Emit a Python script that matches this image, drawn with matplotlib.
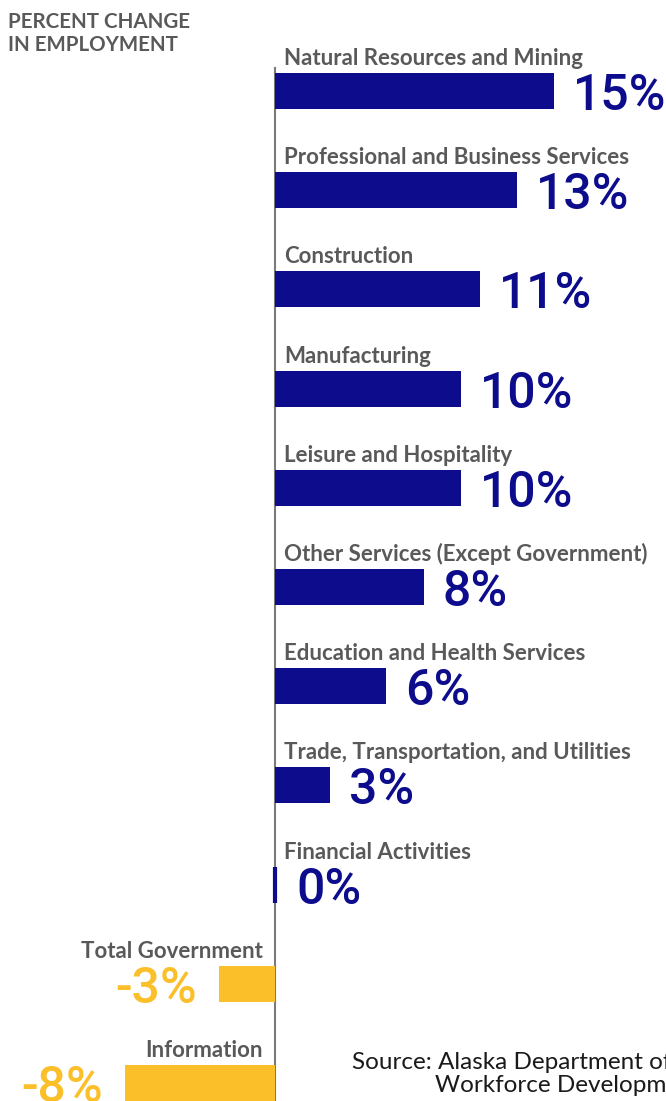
import matplotlib
matplotlib.use("Agg")
import matplotlib.pyplot as plt

# percent change in employment by industry
sectores = [
    "Natural Resources and Mining",
    "Professional and Business Services",
    "Construction",
    "Manufacturing",
    "Leisure and Hospitality",
    "Other Services (Except Government)",
    "Education and Health Services",
    "Trade, Transportation, and Utilities",
    "Financial Activities",
    "Total Government",
    "Information",
]
cambio = [15, 13, 11, 10, 10, 8, 6, 3, 0, -3, -8]

azul = "#0c0c8c"
amarillo = "#fbbf2a"
gris = "#595959"

plt.rcParams["font.family"] = ["Lato", "DejaVu Sans"]
fuente_num = ["Roboto", "DejaVu Sans"]

fig = plt.figure(figsize=(6.66, 11.01), dpi=100)
ax = fig.add_axes([0, 0, 1, 1])

alto = 0.363
pos = list(range(len(cambio)))
colores = [azul if v >= 0 else amarillo for v in cambio]
grosor = [3 if v == 0 else 0 for v in cambio]

ax.barh(pos, cambio, height=alto, color=colores, edgecolor=colores,
        linewidth=grosor, zorder=3)
ax.plot([0, 0], [-0.23, 10.5], color="#7a7a7a", lw=1.5, zorder=2)

for y, nombre, v in zip(pos, sectores, cambio):
    tope = y - alto / 2
    if v >= 0:
        ax.annotate(nombre, xy=(0, tope), xytext=(10, 8), textcoords="offset pixels",
                    ha="left", va="baseline", fontsize=16, fontweight="bold", color=gris)
        dx = 22 if v == 0 else 19
        ax.annotate(f"{v}%", xy=(v, y), xytext=(dx, -19), textcoords="offset pixels",
                    ha="left", va="baseline", fontsize=36, fontweight="medium",
                    family=fuente_num, color=azul)
    else:
        ax.annotate(nombre, xy=(0, tope), xytext=(-12, 8), textcoords="offset pixels",
                    ha="right", va="baseline", fontsize=16, fontweight="bold", color=gris)
        ax.annotate(f"{v}%", xy=(v, y), xytext=(-22, -19), textcoords="offset pixels",
                    ha="right", va="baseline", fontsize=36, fontweight="medium",
                    family=fuente_num, color=amarillo)

ax.set_xlim(-274.5 / 18.65, (666 - 274.5) / 18.65)
ax.set_ylim((1101 - 91) / 99.2, -91 / 99.2)
ax.axis("off")

fig.text(8 / 666, 1 - 12 / 1101, "PERCENT CHANGE\nIN EMPLOYMENT", ha="left", va="top",
         fontsize=14.8, fontweight="bold", color=gris, linespacing=1.2)

# la segunda linea queda con su base en y=1092 px
fig.text(352 / 666, 1 - 1092 / 1101,
         "Source: Alaska Department of Labor and\nWorkforce Development",
         ha="left", va="baseline", multialignment="center",
         fontsize=17.5, color="#1a1a1a", linespacing=1.1)

fig.savefig("out.png", dpi=100)
